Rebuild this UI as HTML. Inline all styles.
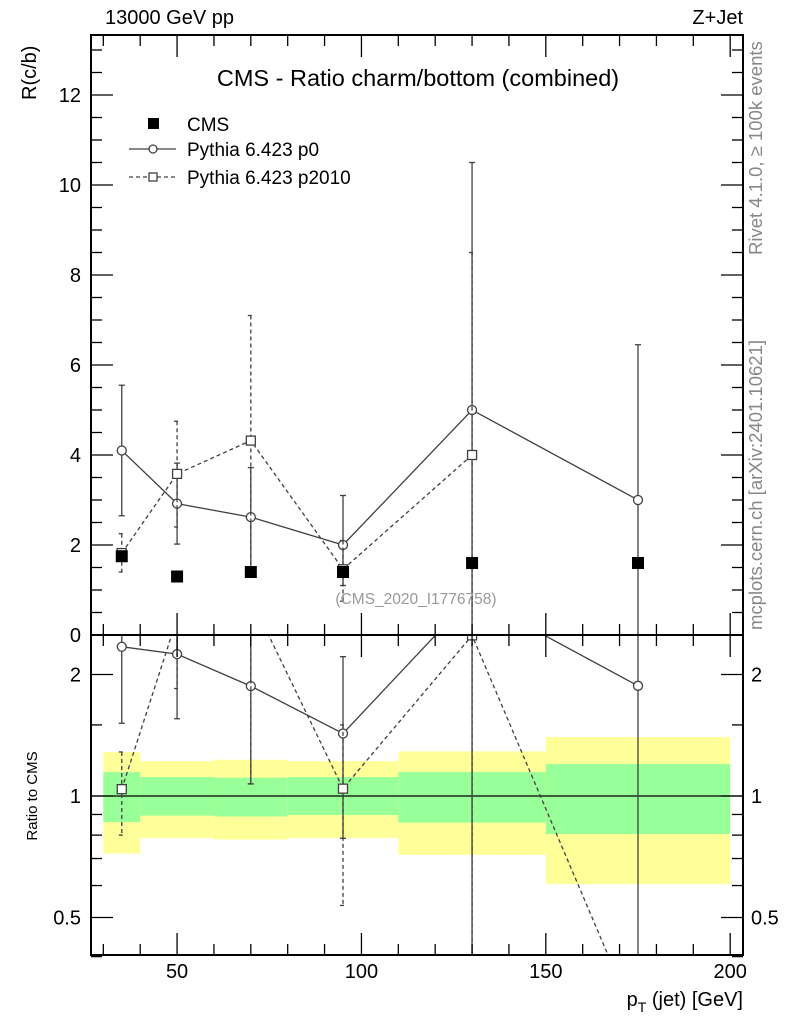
<!DOCTYPE html>
<html><head><meta charset="utf-8">
<style>
html,body{margin:0;padding:0;background:#fff;width:786px;height:1024px;overflow:hidden;position:relative;}
svg{display:block;font-family:"Liberation Sans",sans-serif;}
</style></head>
<body>
<svg id="c" width="786" height="1024" viewBox="0 0 786 1024" xmlns="http://www.w3.org/2000/svg"></svg>
<script>
const binLo=[30,40,60,80,110,150];
const binHi=[40,60,80,110,150,200];
const xs=[35,50,70,95,130,175];
const cms=[1.75,1.3,1.4,1.4,1.6,1.6];
const bandYLo=[0.72,0.787,0.78,0.787,0.715,0.605];
const bandYHi=[1.285,1.22,1.23,1.22,1.29,1.40];
const bandGLo=[0.862,0.894,0.89,0.897,0.859,0.805];
const bandGHi=[1.146,1.114,1.11,1.114,1.146,1.20];
const p0=[4.1,2.92,2.62,2.0,5.0,3.0];
const p0Lo=[2.65,2.02,1.5,1.1,0,0];
const p0Hi=[5.55,3.82,3.72,3.1,10.5,6.45];
const p2=[1.82,3.58,4.32,1.46,4.0,0];
const p2Lo=[1.4,2.4,1.5,0.75,0,0];
const p2Hi=[2.25,4.75,7.1,2.1,8.5,0];
const yTicks=[0,2,4,6,8,10,12];
const xTicks=[50,100,150,200];
const rTicks=[0.5,1,2];

const NS="http://www.w3.org/2000/svg";
const svg=document.getElementById('c');
const L=91,R=743,T=35,MB=635,RB=955;
const X=v=>-7.3+3.6874*v;
const Y=v=>635-45*v;
const RY=r=>796-121.5*Math.log2(r);
function el(tag,attrs,parent){const e=document.createElementNS(NS,tag);for(const k in attrs)e.setAttribute(k,attrs[k]);(parent||svg).appendChild(e);return e;}
function txt(s,attrs,parent){const e=el('text',attrs,parent);e.textContent=s;return e;}

const defs=el('defs',{});
const c1=el('clipPath',{id:'cm'},defs);el('rect',{x:L,y:T,width:R-L,height:MB-T},c1);
const c2=el('clipPath',{id:'cr'},defs);el('rect',{x:L,y:MB,width:R-L,height:RB-MB},c2);

const gR=el('g',{'clip-path':'url(#cr)'});


for(let i=0;i<binLo.length;i++){
  const y=el('rect',{x:X(binLo[i]),y:RY(bandYHi[i]),width:X(binHi[i])-X(binLo[i]),height:RY(bandYLo[i])-RY(bandYHi[i]),fill:'#ffff99'},gR);
  
  
  const g=el('rect',{x:X(binLo[i]),y:RY(bandGHi[i]),width:X(binHi[i])-X(binLo[i]),height:RY(bandGLo[i])-RY(bandGHi[i]),fill:'#99ff99'},gR);
  
  
}
el('line',{x1:L,x2:R,y1:RY(1),y2:RY(1),stroke:'#000','stroke-width':1.3},gR);

const gM=el('g',{'clip-path':'url(#cm)'});



function series(vals,lo,hi,dash,marker,name){
  const pts=[];
  for(let i=0;i<xs.length;i++){ if(vals[i]>0) pts.push([X(xs[i]),Y(vals[i])]); }
  const pl=el('polyline',{points:pts.map(p=>p.join(',')).join(' '),fill:'none',stroke:'#404040','stroke-width':1.3,'stroke-dasharray':dash},gM);
  
  
  const rp=[];
  for(let i=0;i<xs.length;i++){ let r=vals[i]/cms[i]; if(r<=0) r=0.27; rp.push([X(xs[i]),RY(r)]); }
  const rl=el('polyline',{points:rp.map(p=>p.join(',')).join(' '),fill:'none',stroke:'#404040','stroke-width':1.3,'stroke-dasharray':dash},gR);
  
  
  for(let i=0;i<xs.length;i++){
    if(vals[i]<=0) continue;
    const x=X(xs[i]);
    const eb=el('g',{stroke:'#404040','stroke-width':1.3,'stroke-dasharray':dash},gM);
    
    
    el('line',{x1:x,x2:x,y1:Y(hi[i]),y2:Y(Math.max(lo[i],-1))},eb);
    el('line',{x1:x-3,x2:x+3,y1:Y(hi[i]),y2:Y(hi[i])},eb);
    el('line',{x1:x-3,x2:x+3,y1:Y(lo[i]),y2:Y(lo[i])},eb);
    const rb=el('g',{stroke:'#404040','stroke-width':1.3,'stroke-dasharray':dash},gR);
    
    
    const rh=RY(hi[i]/cms[i]), rlw=lo[i]>0?RY(lo[i]/cms[i]):1000;
    el('line',{x1:x,x2:x,y1:rh,y2:rlw},rb);
    el('line',{x1:x-3,x2:x+3,y1:rh,y2:rh},rb);
    el('line',{x1:x-3,x2:x+3,y1:rlw,y2:rlw},rb);
    for(const [grp,yy] of [[gM,Y(vals[i])],[gR,RY(vals[i]/cms[i])]]){
      let m;
      if(marker==='o') m=el('circle',{cx:x,cy:yy,r:4.5,fill:'#fff',stroke:'#404040','stroke-width':1.3},grp);
      else m=el('rect',{x:x-4.5,y:yy-4.5,width:9,height:9,fill:'#fff',stroke:'#404040','stroke-width':1.3},grp);
      
      
    }
  }
}
series(p0,p0Lo,p0Hi,'none','o','pythia-p0');
series(p2,p2Lo,p2Hi,'4,3','s','pythia-p2010');
for(let i=0;i<xs.length;i++){
  const m=el('rect',{x:X(xs[i])-6,y:Y(cms[i])-6,width:12,height:12,fill:'#000'},gM);
  
  
}

el('rect',{x:L,y:T,width:R-L,height:MB-T,fill:'none',stroke:'#000','stroke-width':2});
el('rect',{x:L,y:MB,width:R-L,height:RB-MB,fill:'none',stroke:'#000','stroke-width':2});

for(let v=0;v<=13.3;v+=0.5){
  const major=Math.abs(v%2)<1e-6, len=major?22:11;
  el('line',{x1:L,x2:L+len,y1:Y(v),y2:Y(v),stroke:'#000','stroke-width':1.3});
  el('line',{x1:R,x2:R-len,y1:Y(v),y2:Y(v),stroke:'#000','stroke-width':1.3});
}
yTicks.forEach(v=>{const t=txt(String(v),{x:L-10,y:Y(v)+7,'font-size':20,'text-anchor':'end'});
  });
for(let v=30;v<=200;v+=10){
  const major=v%50===0,len=major?22:11;
  for(const [yt,d] of [[T,1],[MB,-1],[MB,1],[RB,-1]]){
    el('line',{x1:X(v),x2:X(v),y1:yt,y2:yt+d*len,stroke:'#000','stroke-width':1.3});
  }
}
xTicks.forEach(v=>{const t=txt(String(v),{x:X(v),y:978,'font-size':20,'text-anchor':'middle'});
  });
const rMinor=[0.4,0.5,0.6,0.7,0.8,0.9,1,1.5,2];
rMinor.forEach(r=>{const major=rTicks.includes(r),len=major?22:11;
  el('line',{x1:L,x2:L+len,y1:RY(r),y2:RY(r),stroke:'#000','stroke-width':1.3});
  el('line',{x1:R,x2:R-len,y1:RY(r),y2:RY(r),stroke:'#000','stroke-width':1.3});});
rTicks.forEach(r=>{
  const a=txt(String(r),{x:L-10,y:RY(r)+7,'font-size':20,'text-anchor':'end'});
  
  const b=txt(String(r),{x:R+8,y:RY(r)+7,'font-size':20,'text-anchor':'start'});
  });
</script>
<svg width="786" height="1024" style="position:absolute;left:0;top:0;font-family:'Liberation Sans',sans-serif" xmlns="http://www.w3.org/2000/svg">
<text x="105" y="24" font-size="20">13000 GeV pp</text>
<text x="743" y="24" font-size="20" text-anchor="end">Z+Jet</text>
<text x="418" y="86" font-size="23.5" text-anchor="middle">CMS - Ratio charm/bottom (combined)</text>
<text x="416" y="604" font-size="15.5" fill="#999" text-anchor="middle">(CMS_2020_I1776758)</text>
<text transform="translate(36,100) rotate(-90)" font-size="20">R(c/b)</text>
<text transform="translate(37,796) rotate(-90)" font-size="15" text-anchor="middle">Ratio to CMS</text>
<text x="743" y="1006" font-size="20" text-anchor="end">p<tspan font-size="14" dy="6">T</tspan><tspan dy="-6"> (jet) [GeV]</tspan></text>
<text transform="translate(762,255) rotate(-90)" font-size="18.5" fill="#888">Rivet 4.1.0, ≥ 100k events</text>
<text transform="translate(762,630) rotate(-90)" font-size="18.5" fill="#888">mcplots.cern.ch [arXiv:2401.10621]</text>
<g>
<rect x="148" y="118" width="11" height="11" fill="#000"/>
<text x="187" y="131" font-size="19">CMS</text>
<line x1="129" x2="176" y1="149" y2="149" stroke="#404040" stroke-width="1.3"/>
<circle cx="153" cy="149" r="4" fill="#fff" stroke="#404040" stroke-width="1.3"/>
<text x="187" y="156" font-size="19">Pythia 6.423 p0</text>
<line x1="129" x2="176" y1="177" y2="177" stroke="#404040" stroke-width="1.3" stroke-dasharray="4,3"/>
<rect x="149" y="173" width="8" height="8" fill="#fff" stroke="#404040" stroke-width="1.3"/>
<text x="187" y="184" font-size="19">Pythia 6.423 p2010</text>
</g>
</svg>
</body></html>
